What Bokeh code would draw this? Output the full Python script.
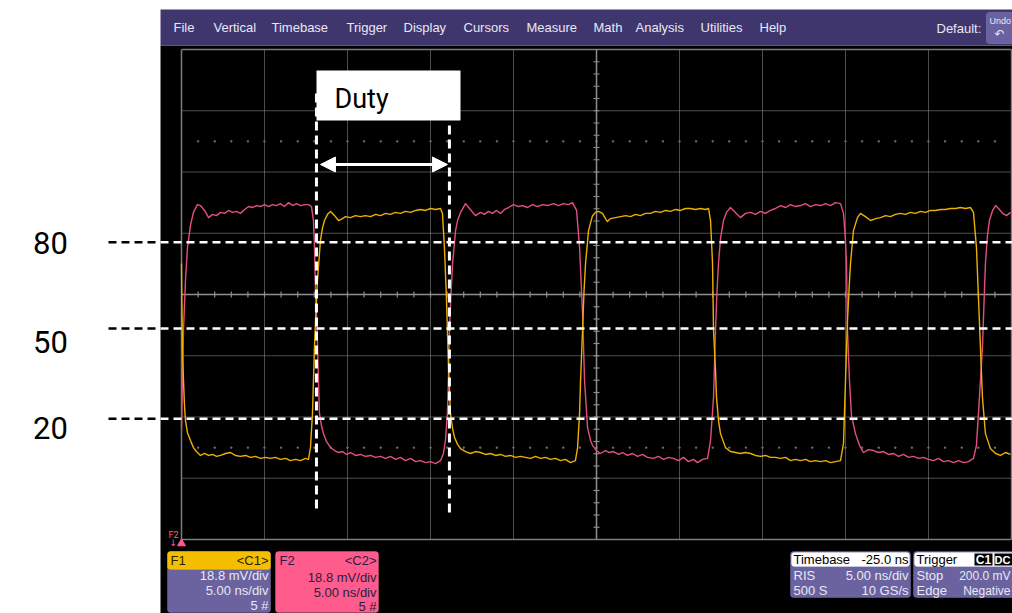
import numpy as np
from bokeh.plotting import figure
from bokeh.models import Range1d, Label, BoxAnnotation, Arrow, NormalHead
from bokeh.embed import file_html
from bokeh.resources import INLINE

# ---------------- data ----------------
NS_PER_DIV = 5.0
MV_PER_DIV = 18.8

# C2 (pink) trace: time [ns], amplitude [mV]
c2_time_ns = [0.00, 0.06, 0.12, 0.24, 0.36, 0.54, 0.72, 0.96, 1.14, 1.39, 1.63, 1.87, 2.11, 2.35, 2.59, 2.83,
              3.07, 3.31, 3.55, 3.80, 4.04, 4.28, 4.52, 4.76, 5.00, 5.24, 5.48, 5.72, 5.96, 6.20, 6.45, 6.69,
              6.93, 7.17, 7.41, 7.65, 7.83, 7.95, 8.01, 8.07, 8.17, 8.25, 8.31, 8.43, 8.55, 8.73, 8.98, 9.22,
              9.46, 9.70, 9.94, 10.18, 10.48, 10.78, 11.08, 11.39, 11.69, 11.99, 12.29, 12.59, 12.89, 13.19,
              13.49, 13.80, 14.10, 14.40, 14.70, 15.00, 15.30, 15.60, 15.78, 15.90, 16.02, 16.08, 16.14, 16.23,
              16.33, 16.51, 16.63, 16.81, 17.11, 17.35, 17.71, 18.01, 18.25, 18.49, 18.73, 18.98, 19.22, 19.46,
              19.70, 20.00, 20.30, 20.54, 20.84, 21.14, 21.45, 21.75, 22.05, 22.41, 22.71, 23.01, 23.31, 23.55,
              23.80, 23.98, 24.16, 24.28, 24.46, 24.64, 24.76, 25.00, 25.24, 25.54, 25.78, 26.02, 26.33, 26.57,
              26.87, 27.17, 27.47, 27.77, 28.07, 28.43, 28.73, 29.04, 29.34, 29.64, 29.94, 30.24, 30.54, 30.84,
              31.08, 31.39, 31.69, 31.87, 32.05, 32.17, 32.26, 32.35, 32.47, 32.65, 32.83, 33.07, 33.37, 33.67,
              33.98, 34.28, 34.58, 34.88, 35.18, 35.48, 35.78, 36.08, 36.39, 36.69, 36.99, 37.29, 37.59, 37.89,
              38.19, 38.49, 38.80, 39.10, 39.40, 39.70, 39.88, 40.00, 40.06, 40.12, 40.24, 40.36, 40.60, 40.84,
              41.08, 41.39, 41.69, 41.99, 42.29, 42.59, 42.89, 43.19, 43.49, 43.80, 44.10, 44.40, 44.70, 45.00,
              45.30, 45.60, 45.90, 46.20, 46.51, 46.81, 47.11, 47.41, 47.71, 47.89, 48.01, 48.13, 48.25, 48.37,
              48.43, 48.55, 48.67, 48.86, 49.04, 49.22, 49.46, 49.70, 49.94]
c2_mV = [-41.1, -26.4, -11.0, 4.3, 14.4, 21.2, 25.2, 27.6, 27.3, 25.8, 23.6, 24.6, 24.2, 25.2, 24.9, 25.8,
         25.2, 25.5, 24.9, 26.1, 27.0, 26.7, 27.3, 27.0, 27.6, 27.0, 27.6, 27.3, 27.9, 27.0, 28.2, 27.3,
         27.9, 27.3, 27.6, 27.6, 27.0, 22.7, 14.4, 1.2, -11.0, -26.4, -36.5, -40.2, -42.7, -45.1, -47.0, -47.9,
         -48.5, -48.2, -49.1, -48.5, -49.4, -49.1, -49.7, -49.4, -50.0, -49.7, -50.3, -49.7, -50.6, -50.0,
         -51.0, -50.3, -51.3, -51.0, -51.6, -51.3, -51.9, -51.0, -48.8, -44.8, -36.5, -26.4, -11.0, -0.3,
         9.5, 19.6, 22.7, 25.2, 27.9, 26.4, 24.2, 25.2, 24.6, 25.5, 24.9, 25.8, 24.9, 26.1,
         26.7, 27.6, 27.0, 27.3, 26.7, 27.6, 27.0, 27.6, 27.3, 27.9, 27.3, 27.9, 27.6, 28.2,
         25.8, 14.4, -5.8, -26.4, -40.8, -44.8, -46.3, -47.9, -48.8, -47.9, -48.5, -48.2, -49.1, -48.5,
         -49.4, -48.8, -49.7, -49.1, -50.0, -50.3, -49.7, -50.6, -50.0, -50.3, -51.0, -50.0, -51.3, -50.6,
         -51.6, -50.6, -50.3, -44.8, -31.6, -11.0, 1.2, 9.5, 17.2, 22.7, 25.2, 26.7, 25.2, 23.6,
         24.9, 25.2, 24.6, 25.5, 24.9, 25.8, 26.4, 27.3, 26.7, 27.6, 27.0, 27.3, 27.9, 27.0,
         27.6, 27.3, 27.9, 27.3, 28.2, 27.9, 24.9, 16.6, 9.5, -11.0, -26.4, -37.1, -42.7, -46.3,
         -48.5, -47.6, -47.9, -48.5, -48.2, -49.1, -48.8, -49.7, -49.1, -50.0, -49.7, -50.3, -50.0, -50.6,
         -51.0, -50.3, -51.3, -51.0, -51.6, -51.0, -51.6, -51.3, -50.3, -46.3, -36.5, -26.4, -16.3, 1.2,
         9.5, 18.1, 22.7, 25.8, 27.3, 26.4, 24.9, 24.2, 25.2]

# C1 (yellow) trace: time [ns], amplitude [mV]
c1_time_ns = [0.00, 0.03, 0.06, 0.12, 0.18, 0.24, 0.36, 0.54, 0.72, 0.90, 1.14, 1.39, 1.63, 1.87, 2.11, 2.35,
              2.65, 2.95, 3.25, 3.55, 3.86, 4.16, 4.46, 4.76, 5.06, 5.36, 5.66, 5.96, 6.27, 6.57, 6.87, 7.17,
              7.47, 7.65, 7.77, 7.89, 7.95, 8.01, 8.10, 8.19, 8.37, 8.49, 8.61, 8.80, 8.98, 9.22, 9.46, 9.70,
              9.88, 10.18, 10.48, 10.78, 11.08, 11.39, 11.69, 11.99, 12.29, 12.59, 12.89, 13.19, 13.49, 13.80,
              14.10, 14.40, 14.70, 15.00, 15.30, 15.60, 15.72, 15.84, 15.96, 16.08, 16.20, 16.33, 16.45, 16.63,
              16.81, 17.11, 17.41, 17.71, 18.01, 18.31, 18.61, 18.92, 19.22, 19.52, 19.82, 20.12, 20.42, 20.72,
              21.02, 21.33, 21.63, 21.93, 22.23, 22.53, 22.83, 23.13, 23.43, 23.73, 23.86, 23.98, 24.04, 24.16,
              24.25, 24.34, 24.52, 24.76, 24.94, 25.12, 25.36, 25.54, 25.66, 25.84, 26.14, 26.45, 26.75, 27.05,
              27.35, 27.65, 27.95, 28.25, 28.55, 28.86, 29.16, 29.46, 29.76, 30.06, 30.36, 30.66, 30.96, 31.27,
              31.57, 31.75, 31.87, 31.99, 32.05, 32.17, 32.23, 32.35, 32.47, 32.77, 33.07, 33.37, 33.67, 33.98,
              34.28, 34.58, 34.88, 35.18, 35.48, 35.78, 36.08, 36.39, 36.69, 36.99, 37.29, 37.59, 37.89, 38.19,
              38.49, 38.80, 39.10, 39.40, 39.70, 39.88, 40.00, 40.12, 40.21, 40.30, 40.48, 40.72, 40.90, 41.20,
              41.51, 41.81, 42.11, 42.41, 42.71, 43.01, 43.31, 43.61, 43.92, 44.22, 44.52, 44.82, 45.12, 45.42,
              45.72, 46.02, 46.33, 46.63, 46.93, 47.23, 47.53, 47.71, 47.89, 48.01, 48.13, 48.25, 48.43, 48.73,
              49.04, 49.34, 49.64, 49.94]
c1_mV = [9.5, -5.8, -17.2, -26.4, -34.1, -38.7, -42.4, -44.8, -47.0, -48.2, -49.4, -48.8, -49.4, -49.1, -49.7, -49.4,
         -48.8, -48.5, -49.4, -49.7, -49.4, -50.0, -49.7, -50.3, -50.0, -50.3, -50.0, -50.6, -50.3, -51.0, -50.6, -51.0,
         -50.3, -50.6, -47.0, -36.5, -26.4, -16.3, -4.9, 4.3, 16.6, 20.3, 22.7, 24.6, 25.5, 24.2, 22.7, 23.3,
         23.9, 23.6, 24.2, 23.9, 24.2, 23.9, 24.6, 24.2, 24.9, 24.6, 25.2, 24.9, 25.5, 25.2,
         25.8, 26.1, 25.8, 26.4, 26.1, 26.4, 24.9, 14.4, -0.9, -21.2, -36.5, -41.1, -43.9, -46.0,
         -47.3, -48.2, -48.8, -48.2, -48.5, -49.1, -48.8, -49.4, -49.1, -49.7, -49.4, -50.0, -49.7, -50.0,
         -50.3, -49.7, -50.3, -50.0, -50.6, -50.3, -51.0, -50.6, -51.6, -51.0, -47.0, -36.5, -26.4, -11.0,
         1.2, 9.5, 19.6, 24.2, 25.2, 25.5, 24.9, 23.3, 22.4, 23.3, 23.6, 23.9, 24.2, 23.9,
         24.6, 24.2, 24.9, 24.9, 25.5, 25.2, 25.8, 25.5, 26.1, 25.8, 26.4, 26.4, 26.1, 26.4,
         26.1, 26.4, 22.7, 9.5, -11.0, -23.3, -31.6, -38.7, -42.7, -47.0, -48.2, -48.5, -48.8, -48.5,
         -48.8, -49.4, -49.7, -49.4, -50.0, -50.0, -50.3, -50.0, -51.0, -50.6, -51.0, -50.6, -51.3, -51.0,
         -51.3, -51.0, -51.6, -51.3, -51.0, -45.7, -26.4, -8.0, 1.2, 9.5, 19.6, 23.6, 24.9, 23.9,
         22.7, 23.3, 23.6, 24.2, 23.9, 24.6, 24.9, 24.6, 25.2, 24.9, 25.5, 25.2, 25.8, 25.8,
         26.1, 26.1, 26.4, 26.4, 26.7, 26.4, 26.7, 25.2, 14.4, -0.9, -16.3, -31.6, -42.7, -47.3,
         -48.8, -49.4, -48.5, -49.1]

threshold_pct = ["80", "50", "20"]
threshold_mV = [16.0, -10.4, -38.1]
duty_cursor_ns = [8.13, 16.14]
duty_label = "Duty"

menu_items = ["File", "Vertical", "Timebase", "Trigger", "Display", "Cursors", "Measure",
              "Math", "Analysis", "Utilities", "Help"]

f1_lines = ["18.8 mV/div", "5.00 ns/div", "5 #"]
f2_lines = ["18.8 mV/div", "5.00 ns/div", "5 #"]
timebase_rows = [("RIS", "5.00 ns/div"), ("500 S", "10 GS/s")]
trigger_rows = [("Stop", "200.0 mV"), ("Edge", "Negative")]

# ---------------- layout helpers (reference pixel -> data) ----------------
PX_PER_NS = 83.0 / NS_PER_DIV
PX_PER_MV = 61.25 / MV_PER_DIV
X_ORIGIN = 181.0   # screen x of t = 0
Y_ORIGIN = 294.0   # screen y of 0 mV
W, H = 1012, 613


def tx(X):
    return (X - X_ORIGIN) / PX_PER_NS


def vy(Y):
    return (Y_ORIGIN - Y) / PX_PER_MV


p = figure(width=W, height=H, x_range=Range1d(tx(0), tx(W)), y_range=Range1d(vy(H), vy(0)),
           output_backend="svg", toolbar_location=None, min_border=0, x_axis_type=None, y_axis_type=None,
           background_fill_color="white", border_fill_color="white", outline_line_color=None)
p.grid.visible = False

# scope window background and menu bar
p.quad(left=[tx(160)], right=[tx(1013)], top=[vy(45)], bottom=[vy(614)], fill_color="black", line_color=None)
p.quad(left=[tx(160)], right=[tx(1013)], top=[vy(9)], bottom=[vy(45)], fill_color="#40366E", line_color=None)

# grid
n_xdiv, n_ydiv = 10, 8
xs_div = [i * NS_PER_DIV for i in range(n_xdiv + 1)]
ys_div = [(j - n_ydiv // 2) * MV_PER_DIV for j in range(n_ydiv + 1)]
t_min, t_max = xs_div[0], xs_div[-1]
v_min, v_max = ys_div[0], ys_div[-1]

inner_x = [x for i, x in enumerate(xs_div) if i not in (0, n_xdiv, n_xdiv // 2)]
inner_y = [y for j, y in enumerate(ys_div) if j not in (0, n_ydiv, n_ydiv // 2)]
p.segment(x0=inner_x, x1=inner_x, y0=[v_min] * len(inner_x), y1=[v_max] * len(inner_x),
          line_color="#9a9a9a", line_width=1, line_dash="1 1")
p.segment(x0=[t_min] * len(inner_y), x1=[t_max] * len(inner_y), y0=inner_y, y1=inner_y,
          line_color="#9a9a9a", line_width=1, line_dash="1 1")

# minor dot rows
dot_t = [i * 1.0 for i in range(1, 50)]
for lvl in (2.5 * MV_PER_DIV, -2.5 * MV_PER_DIV):
    p.scatter(dot_t, [lvl] * len(dot_t), marker="square", size=1.3, color="#6a6a6a")

# border
p.segment(x0=[t_min, t_max, t_min, t_min], x1=[t_min, t_max, t_max, t_max],
          y0=[v_min, v_min, v_max, v_min], y1=[v_max, v_max, v_max, v_min],
          line_color="#7d7d7d", line_width=1.5)
# center crosshair with ticks
tc = xs_div[n_xdiv // 2]
p.segment(x0=[t_min, tc], x1=[t_max, tc], y0=[0, v_min], y1=[0, v_max], line_color="#8f8f8f", line_width=1.5)
tick_t = [i * 1.0 for i in range(1, 50)]
hv = 3.0 / PX_PER_MV
p.segment(x0=tick_t, x1=tick_t, y0=[-hv] * len(tick_t), y1=[hv] * len(tick_t), line_color="#8f8f8f", line_width=1.2)
tick_v = [k * MV_PER_DIV / 5 for k in range(-19, 20) if k != 0]
ht = 3.0 / PX_PER_NS
p.segment(x0=[tc - ht] * len(tick_v), x1=[tc + ht] * len(tick_v), y0=tick_v, y1=tick_v,
          line_color="#8f8f8f", line_width=1.2)

# traces
p.line(c2_time_ns, c2_mV, line_color="#E4507E", line_width=1.4, line_join="round")
p.line(c1_time_ns, c1_mV, line_color="#EDB000", line_width=1.4, line_join="round")

# threshold dashed lines
for lvl in threshold_mV:
    p.line([tx(108), tx(160)], [lvl, lvl], line_color="black", line_width=2.5, line_dash="8 5")
    p.line([tx(160), tx(1013)], [lvl, lvl], line_color="white", line_width=2.5, line_dash="8 5")

# duty cursors
p.segment(x0=duty_cursor_ns, x1=duty_cursor_ns, y0=[vy(93), vy(125)], y1=[vy(510), vy(512)],
          line_color="white", line_width=3, line_dash="9 5")

# Duty box and arrow
p.add_layout(BoxAnnotation(left=tx(316), right=tx(460), top=vy(70), bottom=vy(120),
                           fill_color="white", fill_alpha=1, line_color=None))
p.add_layout(Arrow(start=NormalHead(size=15, fill_color="white", line_color="white"),
                   end=NormalHead(size=15, fill_color="white", line_color="white"),
                   x_start=duty_cursor_ns[0] + 0.24, y_start=vy(164), x_end=duty_cursor_ns[1] - 0.12, y_end=vy(164),
                   line_color="white", line_width=3))


def lab(X, Y, text, size=13, color="#E8E8F2", align="left", font="Liberation Sans", weight="normal"):
    p.add_layout(Label(x=tx(X), y=vy(Y), text=text, text_font=font, text_font_size=f"{size}px",
                       text_color=color, text_align=align, text_baseline="middle", text_font_style=weight))


NARROW = "Roboto"
lab(334, 98, duty_label, size=27, color="black", font=NARROW)
label_y_px = [242, 341, 427]
for txt, ypx in zip(threshold_pct, label_y_px):
    lab(50, ypx, txt, size=31, color="black", align="center", font=NARROW)

# menu bar texts
menu_x_px = [173, 213, 271, 346, 403, 463, 526, 593, 635, 700, 759]
for txt, xpx in zip(menu_items, menu_x_px):
    lab(xpx, 27, txt)
lab(936, 28, "Default:")
p.add_layout(BoxAnnotation(left=tx(986), right=tx(1016), top=vy(12), bottom=vy(43), fill_color="#6A62A0",
                           fill_alpha=1, line_color="#A8A2D4", border_radius=3))
lab(989, 20, "Undo", size=9)
lab(994, 33, "\u21b6", size=12, font="DejaVu Sans")


def panel(x0, x1, y0, y1, fill, border="#9791C6"):
    p.add_layout(BoxAnnotation(left=tx(x0), right=tx(x1), top=vy(y0), bottom=vy(y1), fill_color=fill,
                               fill_alpha=1, line_color=border, line_width=1, border_radius=3))


# F2 marker
lab(168, 534, "F2", size=9, color="#FF5B8C", font="Roboto")
lab(169, 542, "\u2193", size=9, color="#FF5B8C", font="DejaVu Sans")
p.scatter([0.0], [vy(543)], marker="triangle", size=8, color="#FF5B8C")

# F1 panel
panel(167, 270, 551, 612, "#6B63A0")
panel(167, 270, 551, 569, "#F6BE00", border="#F6BE00")
lab(170, 560, "F1", color="#2a2200")
lab(268, 560, "<C1>", color="#2a2200", align="right")
for k, txt in enumerate(f1_lines):
    lab(268, 575 + 15 * k, txt, align="right")
# F2 panel
panel(275, 378, 551, 612, "#FF5B8C", border="#FF7aa0")
lab(279, 560, "F2", color="#2b1d40")
lab(376, 560, "<C2>", color="#2b1d40", align="right")
for k, txt in enumerate(f2_lines):
    lab(376, 577 + 14.5 * k, txt, color="#2b1d40", align="right")

# Timebase panel
panel(790, 910, 551, 597, "#6B63A0")
panel(791, 909, 552, 566, "white", border="white")
lab(793, 559, "Timebase", color="black")
lab(908, 559, "-25.0 ns", color="black", align="right")
for k, (a, b) in enumerate(timebase_rows):
    lab(793, 575 + 15 * k, a)
    lab(908, 575 + 15 * k, b, align="right")

# Trigger panel
panel(913, 1020, 551, 597, "#6B63A0")
panel(914, 1020, 552, 566, "white", border="white")
lab(916, 559, "Trigger", color="black")
p.add_layout(BoxAnnotation(left=tx(974), right=tx(992), top=vy(553), bottom=vy(565), fill_color="black",
                           fill_alpha=1, line_color=None))
p.add_layout(BoxAnnotation(left=tx(994), right=tx(1014), top=vy(553), bottom=vy(565), fill_color="black",
                           fill_alpha=1, line_color=None))
lab(983, 559, "C1", size=12, color="white", align="center", weight="bold")
lab(994, 559, "DC", size=11, color="white", weight="bold")
for k, (a, b) in enumerate(trigger_rows):
    lab(916, 575 + 15 * k, a)
    lab(1010, 575 + 15 * k, b, size=12, align="right")

open("out.html", "w").write(file_html(p, INLINE))
